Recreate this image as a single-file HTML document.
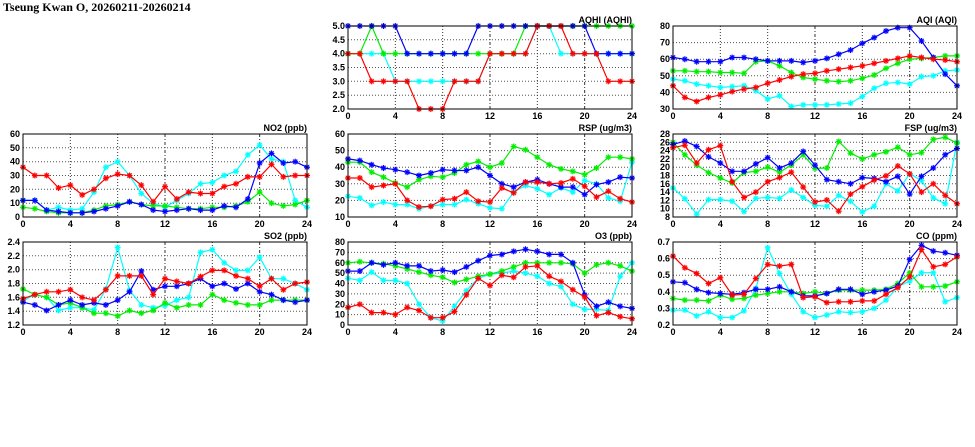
<!DOCTYPE html>
<html><head><meta charset="utf-8"><style>
html,body{margin:0;padding:0;background:#fff;}
svg{display:block;}
text{font-family:"Liberation Sans",sans-serif;font-size:9px;font-weight:bold;fill:#000;}
.t{font-family:"Liberation Serif",serif;font-size:12px;font-weight:bold;}
</style></head><body>
<svg id="s" width="975" height="447" xmlns="http://www.w3.org/2000/svg">
<text class="t" x="3" y="11">Tseung Kwan O, 20260211-20260214</text>
</svg>
<script>
const P=[
{n:"AQHI (AQHI)",x:348,y:26,min:2,max:5,ticks:[2,2.5,3,3.5,4,4.5,5],f:1,d:{
c:[4,4,4,4,3,3,3,3,3,3,3,3,4,4,4,4,5,5,4,4,4,4,4,4,4],
g:[4,4,5,4,4,4,4,4,4,4,4,4,4,4,4,5,5,5,5,5,5,5,5,5,5],
b:[5,5,5,5,5,4,4,4,4,4,4,5,5,5,5,5,5,5,5,5,5,4,4,4,4],
r:[4,4,3,3,3,3,2,2,2,3,3,3,4,4,4,4,5,5,5,4,4,4,3,3,3]}},
{n:"AQI (AQI)",x:673,y:26,min:30,max:80,ticks:[30,40,50,60,70,80],f:0,d:{
c:[48,47,45,44,43,43.5,44,41,36,38,31.5,32.5,32.5,32.5,33,33.5,37.5,42.5,45.5,46,45,49.5,50,53,53.5],
g:[53,53,52.5,52.5,52,52,51.5,58.5,59,56,52,49,48,47,46.5,47,48.5,50.5,54.5,57.5,60,60.5,61,62,62],
b:[61,60,58.5,58.5,58.5,61,61,60,59,59,59,58,59,60.5,63,65.5,69.5,73,77,79,79,71,61,51,44],
r:[44,37,34.5,37,38.5,40.5,42,43,45.5,47.5,49.5,51,51.5,53,54,55,56,57.5,59,60.5,62,61,60,59.5,58.5]}},
{n:"NO2 (ppb)",x:23,y:134,min:0,max:60,ticks:[0,10,20,30,40,50,60],f:0,d:{
c:[12,12,5,7,5,6,18,36,40,30,17,10,7,12,17,24,25,30,33,45,52,42,40,12,7],
g:[7,6,4,3,3,3,5,8,9,11,9,8,8,7,6,6,7,7,8,11,18,10,8,9,12],
b:[12,12,5,4,3,3,4,6,8,11,9,5,4,5,6,5,5,8,7,13,39,46,39,40,36],
r:[36,30,30,21,23,16,20,28,31,30,23,11,22,13,18,17,17,22,24,29,29,38,29,30,30]}},
{n:"RSP (ug/m3)",x:348,y:134,min:10,max:60,ticks:[10,20,30,40,50,60],f:0,d:{
c:[22.5,21.5,17,19,17.5,17.5,15,16.5,17.5,17.5,20.5,18,15.5,15,25,29,27,23.5,27.5,25,32,30,21.5,19.5,43],
g:[43,43,37,34,30.5,28,32.5,34.5,34,36.5,41.5,43.5,40,42.5,52.5,50.5,46,41.5,39,37.5,35.5,39.5,46,46,45],
b:[45,44,41.5,39.5,38.5,37,35,36.5,38.5,38,38,40,35,30,28,31,32.5,30,28,28,23.5,29.5,31,34,33.5],
r:[33.5,33.5,28,29,30,20,16,16.5,20.5,21,25,19.5,19,27.5,24.5,31,31,30,30.5,33,28.5,22,25.5,21,19]}},
{n:"FSP (ug/m3)",x:673,y:134,min:8,max:28,ticks:[8,10,12,14,16,18,20,22,24,26,28],f:0,d:{
c:[15,12.4,8.7,12.2,12.2,11.8,9.3,12.5,12.7,12.5,14.5,12.7,10.8,10.6,13.2,11.8,9.2,10.6,16,14.3,18.4,16.8,12.6,11.2,26],
g:[26,23,20.5,18.7,17.4,16.2,18.7,19,20,18.8,20.5,23,19.7,19.8,26.2,23.4,22,23,23.7,24.8,23,23.5,26.7,27.2,25.8],
b:[25.5,26.3,25,22.5,21,19,19,20.8,22.3,19.8,21,23.8,20.5,17,16.5,16,17.5,17.3,16.5,17.8,13.5,17.8,19.8,23,24.5],
r:[24.7,25.3,21,24.2,25.2,16.5,12.7,14,16.5,17.5,18.8,15.2,11.6,12.1,9.4,13.5,15.3,16.9,17.9,20.3,18.4,14,16,13.2,11.2]}},
{n:"SO2 (ppb)",x:23,y:242,min:1.2,max:2.4,ticks:[1.2,1.4,1.6,1.8,2,2.2,2.4],f:1,d:{
c:[1.55,1.64,1.6,1.41,1.45,1.45,1.42,1.72,2.32,1.7,1.49,1.45,1.48,1.56,1.6,2.25,2.29,2.1,1.99,1.99,2.18,1.87,1.87,1.8,1.71],
g:[1.72,1.64,1.6,1.49,1.52,1.45,1.37,1.37,1.33,1.41,1.37,1.41,1.52,1.45,1.49,1.49,1.64,1.56,1.52,1.49,1.49,1.56,1.56,1.56,1.56],
b:[1.53,1.49,1.41,1.49,1.56,1.49,1.52,1.49,1.56,1.68,1.98,1.71,1.76,1.76,1.8,1.87,1.76,1.8,1.72,1.8,1.68,1.64,1.56,1.53,1.56],
r:[1.58,1.64,1.68,1.68,1.71,1.6,1.56,1.71,1.91,1.91,1.91,1.64,1.87,1.83,1.8,1.9,1.99,1.99,1.91,1.87,1.76,1.87,1.71,1.8,1.82]}},
{n:"O3 (ppb)",x:348,y:242,min:0,max:80,ticks:[0,10,20,30,40,50,60,70,80],f:0,d:{
c:[45,43,51,43,43,40,20,7,4,18,33,45,49,50,52,50,47,40,37,20,15,15,14,47,60],
g:[60,61,60,59,57,54,51,48,46,41,44,47,49,52,56,60,60,60,60,59,50,58,60,57,52],
b:[52,52,60,58,60,57,57,52,53,51,56,62,67,68,71,73,71,68,68,60,29,18,22,18,16],
r:[17,20,12,12,10,17,14,7,7,13,29,45,38,48,46,56,57,47,42,34,27,9,12,8,6]}},
{n:"CO (ppm)",x:673,y:242,min:0.2,max:0.7,ticks:[0.2,0.3,0.4,0.5,0.6,0.7],f:1,d:{
c:[0.29,0.29,0.255,0.28,0.245,0.245,0.285,0.42,0.665,0.51,0.385,0.28,0.245,0.26,0.28,0.275,0.28,0.3,0.35,0.43,0.465,0.515,0.515,0.34,0.365],
g:[0.36,0.35,0.35,0.345,0.38,0.355,0.36,0.38,0.39,0.4,0.4,0.39,0.4,0.39,0.41,0.41,0.41,0.41,0.415,0.45,0.515,0.43,0.43,0.435,0.46],
b:[0.46,0.455,0.415,0.395,0.39,0.385,0.395,0.415,0.415,0.43,0.4,0.375,0.375,0.39,0.415,0.415,0.385,0.4,0.41,0.435,0.595,0.68,0.645,0.635,0.62],
r:[0.615,0.545,0.51,0.45,0.485,0.38,0.385,0.48,0.565,0.555,0.565,0.365,0.37,0.335,0.34,0.34,0.345,0.345,0.385,0.425,0.49,0.655,0.55,0.565,0.61]}}
];
const W=284,H=83,col={c:"#00ffff",g:"#00ee00",b:"#0000ff",r:"#ff0000"};
let o="";
for(const p of P){
 const X=i=>p.x+i*W/24, Y=v=>p.y+H-(v-p.min)/(p.max-p.min)*H;
 for(const t of p.ticks){const y=Y(t).toFixed(1);
  if(t!=p.min&&t!=p.max)o+=`<line x1="${p.x}" x2="${p.x+W}" y1="${y}" y2="${y}" stroke="#555" stroke-dasharray="1,2"/>`;
  o+=`<text x="${p.x-3}" y="${(+y+3).toFixed(1)}" text-anchor="end">${p.f?t.toFixed(1):t}</text>`;}
 for(let h=0;h<=24;h+=4){const x=X(h);
  if(h>0&&h<24)o+=`<line x1="${x}" x2="${x}" y1="${p.y}" y2="${p.y+H}" stroke="#333" stroke-dasharray="${h==12||h==20?'3,2,1,2':'1,2'}"/>`;
  o+=`<text x="${x}" y="${p.y+H+10}" text-anchor="middle">${h}</text>`;}
 o+=`<text x="${p.x+W}" y="${p.y-3}" text-anchor="end">${p.n}</text>`;
 for(const k of ["c","g","b","r"]){const d=p.d[k];
  o+=`<polyline fill="none" stroke="${col[k]}" stroke-width="1.2" points="${d.map((v,i)=>X(i).toFixed(1)+","+Y(v).toFixed(1)).join(" ")}"/>`;
  for(let i=0;i<d.length;i++){const x=X(i),y=Y(d[i]);
   o+=`<rect x="${(x-2.5).toFixed(1)}" y="${(y-2.5).toFixed(1)}" width="5" height="5" fill="${col[k]}" fill-opacity="0.35"/><path d="M${x-3} ${y}h6M${x} ${y-3}v6M${x-2} ${y-2}l4 4M${x-2} ${y+2}l4 -4" stroke="${col[k]}" stroke-width="1"/>`;}}
 o+=`<rect x="${p.x}" y="${p.y}" width="${W}" height="${H}" fill="none" stroke="#000" stroke-width="1"/>`;
}
document.getElementById("s").insertAdjacentHTML("beforeend",o);
</script>
</body></html>
